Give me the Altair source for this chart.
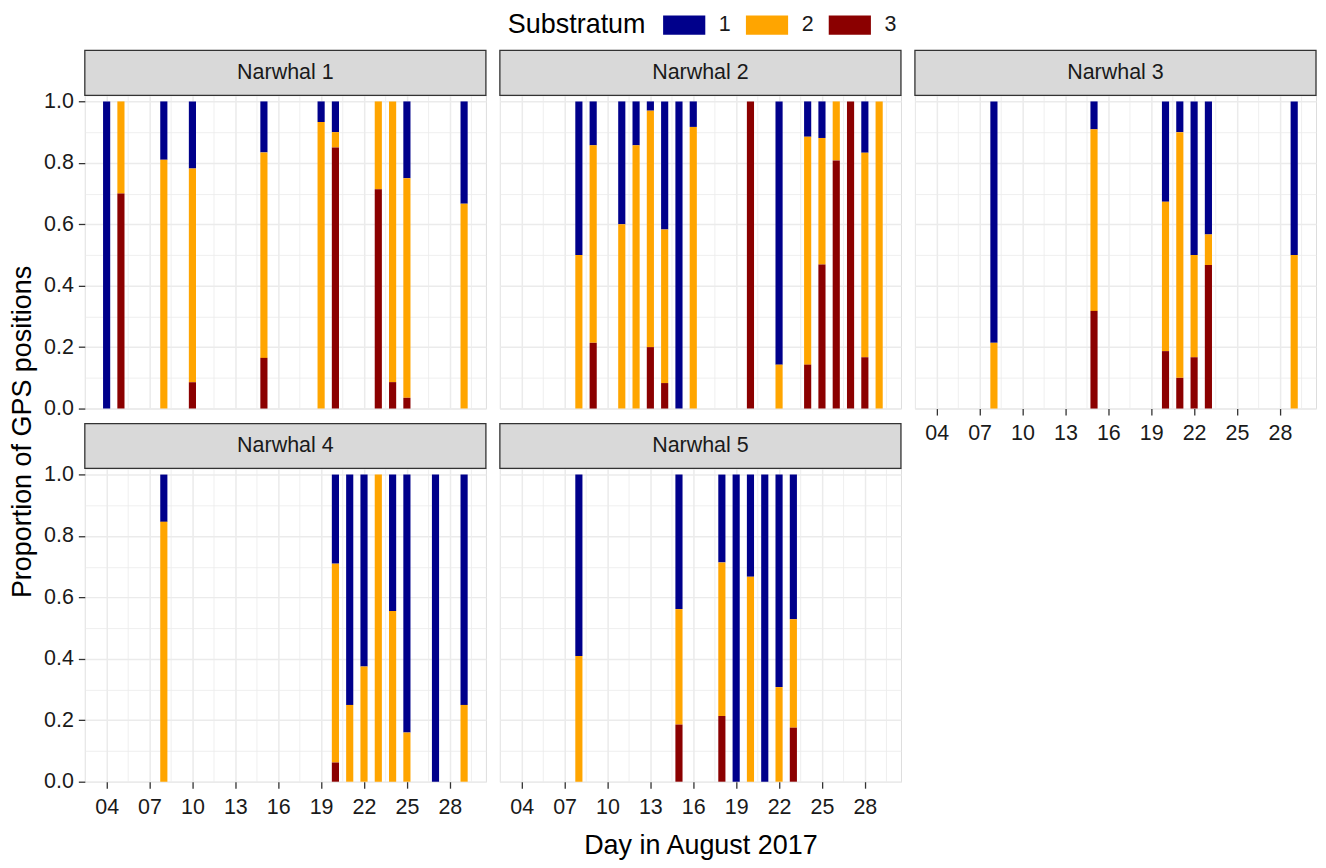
import altair as alt
import pandas as pd

FONT = "Liberation Sans"

substrata = ["1", "2", "3"]
sub_colors = ["#00008B", "#FFA500", "#8B0000"]
panel_names = ["Narwhal 1", "Narwhal 2", "Narwhal 3", "Narwhal 4", "Narwhal 5"]

# Narwhal 1
n1_days = [4, 5, 8, 10, 15, 19, 20, 23, 24, 25, 29]
n1_s1 = [1.0, 0.0, 0.19, 0.218, 0.166, 0.067, 0.10, 0.0, 0.0, 0.25, 0.333]
n1_s2 = [0.0, 0.30, 0.81, 0.696, 0.669, 0.933, 0.05, 0.286, 0.914, 0.715, 0.667]
n1_s3 = [0.0, 0.70, 0.0, 0.086, 0.165, 0.0, 0.85, 0.714, 0.086, 0.035, 0.0]

# Narwhal 2
n2_days = [8, 9, 11, 12, 13, 14, 15, 16, 20, 22, 24, 25, 26, 27, 28, 29]
n2_s1 = [0.5, 0.143, 0.4, 0.143, 0.03, 0.417, 1.0, 0.083, 0.0, 0.857, 0.115, 0.119, 0.0, 0.0, 0.167, 0.0]
n2_s2 = [0.5, 0.643, 0.6, 0.857, 0.77, 0.5, 0.0, 0.917, 0.0, 0.143, 0.742, 0.412, 0.192, 0.0, 0.666, 1.0]
n2_s3 = [0.0, 0.214, 0.0, 0.0, 0.2, 0.083, 0.0, 0.0, 1.0, 0.0, 0.143, 0.469, 0.808, 1.0, 0.167, 0.0]

# Narwhal 3
n3_days = [8, 15, 20, 21, 22, 23, 29]
n3_s1 = [0.786, 0.091, 0.327, 0.1, 0.5, 0.433, 0.5]
n3_s2 = [0.214, 0.591, 0.486, 0.8, 0.333, 0.1, 0.5]
n3_s3 = [0.0, 0.318, 0.187, 0.1, 0.167, 0.467, 0.0]

# Narwhal 4
n4_days = [8, 20, 21, 22, 23, 24, 25, 27, 29]
n4_s1 = [0.154, 0.29, 0.75, 0.625, 0.0, 0.444, 0.84, 1.0, 0.75]
n4_s2 = [0.846, 0.6475, 0.25, 0.375, 1.0, 0.556, 0.16, 0.0, 0.25]
n4_s3 = [0.0, 0.0625, 0.0, 0.0, 0.0, 0.0, 0.0, 0.0, 0.0]

# Narwhal 5
n5_days = [8, 15, 18, 19, 20, 21, 22, 23]
n5_s1 = [0.591, 0.438, 0.286, 1.0, 0.333, 1.0, 0.692, 0.471]
n5_s2 = [0.409, 0.376, 0.5, 0.0, 0.667, 0.0, 0.308, 0.353]
n5_s3 = [0.0, 0.186, 0.214, 0.0, 0.0, 0.0, 0.0, 0.176]

x_tick_values = [2.5 + 1.5 * i for i in range(19)]
y_tick_values = [round(i / 10, 1) for i in range(11)]

series = [
    (n1_days, n1_s1, n1_s2, n1_s3),
    (n2_days, n2_s1, n2_s2, n2_s3),
    (n3_days, n3_s1, n3_s2, n3_s3),
    (n4_days, n4_s1, n4_s2, n4_s3),
    (n5_days, n5_s1, n5_s2, n5_s3),
]

rows = []
for name, (days, s1, s2, s3) in zip(panel_names, series):
    for d, a, b, c in zip(days, s1, s2, s3):
        for sub, v in zip(substrata, (a, b, c)):
            if v > 0:
                rows.append({"narwhal": name, "day": d, "sub": sub, "prop": v})
df = pd.DataFrame(rows)

W = 402
H = 314
STRIP_H = 45
GAP = 14
GRID = "#EBEBEB"
TXT = "#1A1A1A"
TICK_FS = 21.5
TITLE_FS = 27

x_major = "datum.value % 3 == 1"
y_major = "round(datum.value * 10) % 2 == 0"


def make_panel(i, x_labels, y_labels, x_title=None, y_title=None):
    name = panel_names[i]
    data = df[df["narwhal"] == name]

    x_axis = alt.Axis(
        values=x_tick_values,
        labels=x_labels,
        ticks=x_labels,
        labelExpr="datum.value % 3 == 1 ? (datum.value < 10 ? '0' + datum.value : '' + datum.value) : ''",
        tickOpacity={"condition": {"test": x_major, "value": 1}, "value": 0},
        gridWidth={"condition": {"test": x_major, "value": 1.5}, "value": 0.8},
        gridColor=GRID,
        domain=False,
        tickColor="#333333",
        tickSize=6.5,
        tickWidth=1.3,
        labelFont=FONT,
        labelFontSize=TICK_FS,
        labelColor=TXT,
        labelPadding=8,
        labelFlush=False,
        labelOverlap=False,
        title=x_title if x_title else None,
        titleFont=FONT,
        titleFontSize=TITLE_FS,
        titleFontWeight="normal",
        titleColor="#000000",
        titleBaseline="alphabetic",
        titleY=72,
    )
    y_axis = alt.Axis(
        values=y_tick_values,
        labels=y_labels,
        ticks=y_labels,
        labelExpr=f"{y_major} ? format(datum.value, '.1f') : ''",
        tickOpacity={"condition": {"test": y_major, "value": 1}, "value": 0},
        gridWidth={"condition": {"test": y_major, "value": 1.5}, "value": 0.8},
        gridColor=GRID,
        domain=False,
        tickColor="#333333",
        tickSize=6.5,
        tickWidth=1.3,
        labelFont=FONT,
        labelFontSize=TICK_FS,
        labelColor=TXT,
        labelPadding=5,
        labelFlush=False,
        labelOverlap=False,
        title=y_title if y_title else None,
        titleFont=FONT,
        titleFontSize=TITLE_FS,
        titleFontWeight="normal",
        titleColor="#000000",
        titleBaseline="middle",
        titleX=-62,
        titleY=337,
    )

    bars = (
        alt.Chart(data)
        .transform_calculate(x0="datum.day - 0.25", x1="datum.day + 0.25")
        .transform_stack(
            stack="prop",
            groupby=["day"],
            as_=["y0", "y1"],
            sort=[alt.SortField("sub", order="descending")],
        )
        .mark_bar()
        .encode(
            x=alt.X("x0:Q", scale=alt.Scale(domain=[2.475, 30.525], nice=False, zero=False), axis=x_axis),
            x2="x1:Q",
            y=alt.Y("y0:Q", scale=alt.Scale(domain=[0, 1.02], nice=False), axis=y_axis),
            y2="y1:Q",
            color=alt.Color(
                "sub:N",
                scale=alt.Scale(domain=substrata, range=sub_colors),
                legend=alt.Legend(
                    title="Substratum",
                    orient="none",
                    legendX=424,
                    legendY=-81.5,
                    direction="horizontal",
                    titleOrient="left",
                    titleBaseline="middle",
                    titleFont=FONT,
                    titleFontSize=TITLE_FS,
                    titleFontWeight="normal",
                    titleColor="#000000",
                    titlePadding=27,
                    labelFont=FONT,
                    labelFontSize=TICK_FS,
                    labelColor=TXT,
                    labelOffset=24,
                    columnPadding=14,
                    symbolType="M-2.18,-1L2.18,-1L2.18,1L-2.18,1Z",
                    symbolSize=376,
                    symbolStrokeWidth=0,
                    symbolOpacity=1,
                ),
            ),
        )
    )

    strip_df = pd.DataFrame({"label": [name]})
    strip_rect = alt.Chart(strip_df).mark_rect(
        fill="#D9D9D9", stroke="#333333", strokeWidth=1.3
    ).encode(
        x=alt.value(0), x2=alt.value(W), y=alt.value(-STRIP_H), y2=alt.value(0)
    )
    strip_text = alt.Chart(strip_df).mark_text(
        font=FONT, fontSize=TICK_FS, color=TXT, baseline="middle", align="center"
    ).encode(x=alt.value(W / 2), y=alt.value(-STRIP_H / 2), text="label:N")

    return alt.layer(bars, strip_rect, strip_text).properties(width=W, height=H)


p1 = make_panel(0, False, True, y_title="Proportion of GPS positions")
p2 = make_panel(1, False, False)
p3 = make_panel(2, True, False)
p4 = make_panel(3, True, True)
p5 = make_panel(4, True, False, x_title="Day in August 2017")

chart = (
    alt.concat(p1, p2, p3, p4, p5, columns=3, spacing={"row": 15 + STRIP_H, "column": GAP}, bounds="flush")
    .resolve_scale(color="shared")
    .properties(padding={"left": 0, "top": 4.5, "right": 0, "bottom": 0})
    .configure_view(stroke="#333333", strokeWidth=1.3)
    .configure(font=FONT)
)

chart.save("out.html", embed_options={"renderer": "svg", "actions": False})
